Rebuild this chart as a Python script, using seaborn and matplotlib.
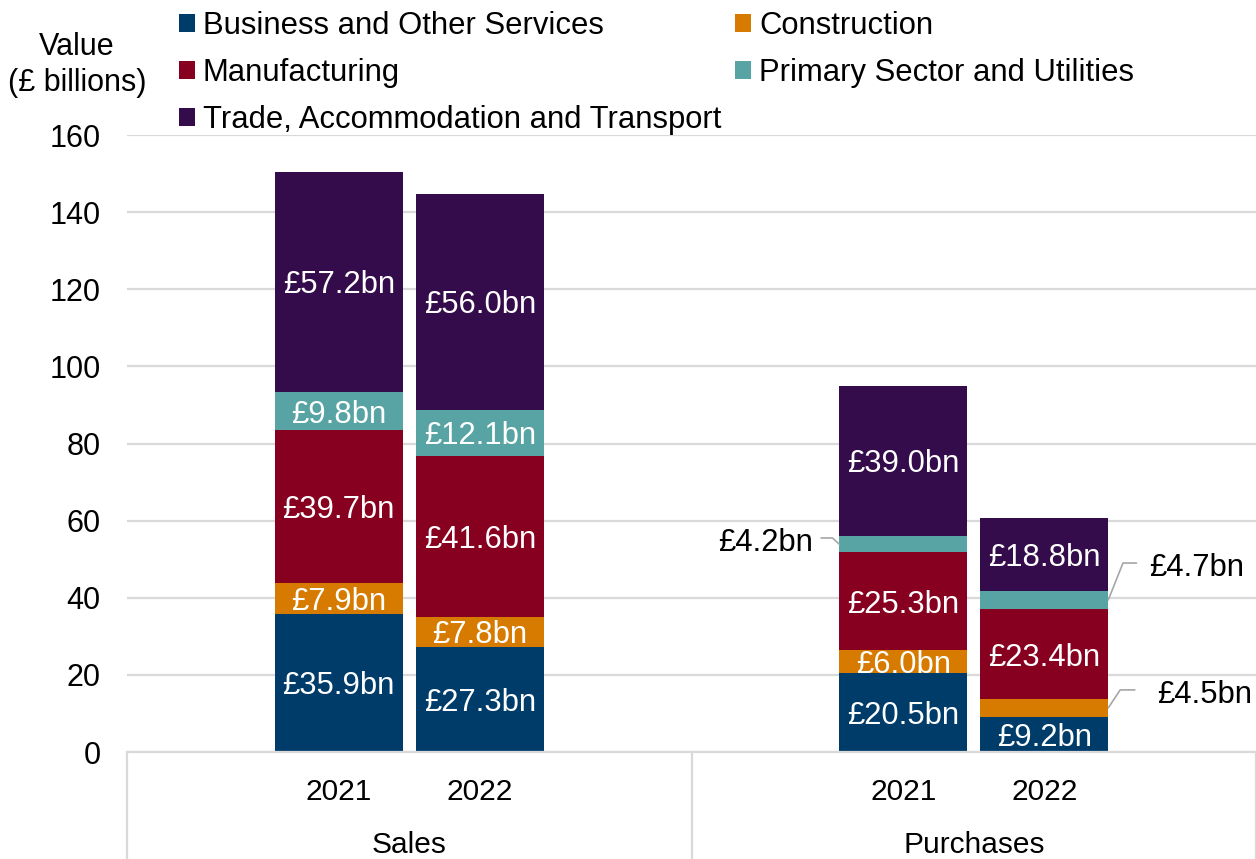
import numpy as np
import pandas as pd
import matplotlib
matplotlib.use("Agg")
import matplotlib.pyplot as plt
from matplotlib.patches import Patch
from matplotlib.lines import Line2D
import seaborn as sns

# ---------------- data ----------------
groups = ["Sales", "Purchases"]
years = ["2021", "2022"]
sectors = ["Business and Other Services", "Construction", "Manufacturing",
           "Primary Sector and Utilities", "Trade, Accommodation and Transport"]
business = [35.9, 27.3, 20.5, 9.2]        # Sales 2021, Sales 2022, Purch 2021, Purch 2022
construction = [7.9, 7.8, 6.0, 4.5]
manufacturing = [39.7, 41.6, 25.3, 23.4]
primary = [9.8, 12.1, 4.2, 4.7]
trade = [57.2, 56.0, 39.0, 18.8]
yticks = [0, 20, 40, 60, 80, 100, 120, 140, 160]

colors = {
    "Business and Other Services": "#003C6A",
    "Construction": "#D67B00",
    "Manufacturing": "#87001F",
    "Primary Sector and Utilities": "#58A3A3",
    "Trade, Accommodation and Transport": "#350C4B",
}

# ---------------- layout ----------------
W, H = 1256, 859
sns.set_theme(style="white")
plt.rcParams["font.family"] = ["Liberation Sans", "DejaVu Sans"]
plt.rcParams["text.color"] = "black"
plt.rcParams["xtick.color"] = "black"
plt.rcParams["ytick.color"] = "black"
plt.rcParams["xtick.labelcolor"] = "black"
plt.rcParams["ytick.labelcolor"] = "black"

fig = plt.figure(figsize=(W / 100, H / 100), dpi=100)
ax = fig.add_axes([127 / W, 1 - 752 / H, (1256 - 127) / W, (752 - 135) / H])

year_offset = 0.125
bar_w = 0.2267
positions = []
for gi, g in enumerate(groups):
    for yi, y in enumerate(years):
        positions.append(gi + 0.5 + (yi - 0.5) * 2 * year_offset)

values = np.array([business, construction, manufacturing, primary, trade])
cum = np.cumsum(values, axis=0)
bottoms = cum - values

rows = []
for si, s in enumerate(sectors):
    for bi, p in enumerate(positions):
        rows.append({"pos": p, "cum": cum[si, bi], "sector": s})
df = pd.DataFrame(rows)

hue_order = sectors[::-1]
min_gap = np.min(np.diff(sorted(positions)))
sns.barplot(data=df, x="pos", y="cum", hue="sector", hue_order=hue_order,
            palette=colors, dodge=False, native_scale=True, errorbar=None,
            saturation=1, width=bar_w / min_gap, linewidth=0, legend=False, ax=ax)

ax.set_xlim(0, 2)
ax.set_ylim(0, 160)
ax.set_yticks(yticks)
ax.tick_params(axis="y", length=0, pad=19, labelsize=22)
ax.set_xticks(positions)
ax.set_xticklabels(years * len(groups))
ax.tick_params(axis="x", length=0, pad=18.5, labelsize=21.5)
ax.set_xlabel("")
ax.set_ylabel("")
ax.yaxis.grid(True, color="#D9D9D9", linewidth=1.6)
ax.set_axisbelow(True)
for sp in ["top", "right", "left"]:
    ax.spines[sp].set_visible(False)
ax.spines["bottom"].set_color("#D9D9D9")
ax.spines["bottom"].set_linewidth(1.6)

# category group dividers and labels
trans = matplotlib.transforms.blended_transform_factory(ax.transData, ax.transAxes)
depth = (859 - 752) / (752 - 135)
for xd in [0, 1, 2]:
    ax.add_line(Line2D([xd, xd], [0, -depth], transform=trans, color="#D9D9D9",
                       linewidth=1.6, clip_on=False))
for gi, g in enumerate(groups):
    ax.text(gi + 0.5, -(845 - 752) / (752 - 135), g, transform=trans,
            ha="center", va="center", fontsize=21.5)

# segment labels
outside = {(3, 2), (1, 3), (3, 3)}  # (sector, bar)
for si in range(len(sectors)):
    for bi, p in enumerate(positions):
        v = values[si, bi]
        if (si, bi) in outside:
            continue
        ax.text(p, bottoms[si, bi] + v / 2, f"£{v:.1f}bn", ha="center",
                va="center_baseline", color="white", fontsize=22.3)

lead_c = "#A6A6A6"
half = bar_w / 2
# £4.2bn (Primary, Purchases 2021) to the left
si, bi = 3, 2
edge = positions[bi] - half
ymid = bottoms[si, bi] + values[si, bi] / 2
ax.plot([edge - 0.032, edge - 0.012, edge], [55.5, 55.5, ymid], color=lead_c, lw=1.2, clip_on=False)
ax.text(edge - 0.047, 55.0, f"£{values[si, bi]:.1f}bn", ha="right", va="center_baseline", fontsize=22.3)
# £4.7bn (Primary, Purchases 2022) to the right
si, bi = 3, 3
edge = positions[bi] + half
ymid = bottoms[si, bi] + values[si, bi] / 2
ax.plot([edge, edge + 0.026, edge + 0.05], [ymid, 49.0, 49.0], color=lead_c, lw=1.2, clip_on=False)
ax.text(edge + 0.073, 48.6, f"£{values[si, bi]:.1f}bn", ha="left", va="center_baseline", fontsize=22.3)
# £4.5bn (Construction, Purchases 2022) to the right
si, bi = 1, 3
edge = positions[bi] + half
ymid = bottoms[si, bi] + values[si, bi] / 2
ax.plot([edge, edge + 0.021, edge + 0.047], [ymid, 16.1, 16.1], color=lead_c, lw=1.2, clip_on=False)
ax.text(edge + 0.086, 15.6, f"£{values[si, bi]:.1f}bn", ha="left", va="center_baseline", fontsize=22.3)

# y-axis title
fig.text(77 / W, 1 - 65 / H, "Value\n(£ billions)", ha="center", va="center",
         fontsize=22, linespacing=1.3)

# legend
order = [0, 2, 4, 1, 3]
handles = [Patch(facecolor=colors[sectors[i]], edgecolor="none") for i in order]
labels = [sectors[i] for i in order]
fig.legend(handles, labels, ncol=2, loc="upper left", bbox_to_anchor=(173 / W, 1 - 5 / H),
           frameon=False, fontsize=22.3, handlelength=0.52, handleheight=0.52,
           handletextpad=0.24, columnspacing=0.46, labelspacing=0.54, borderpad=0.2,
           borderaxespad=0)

fig.savefig("out.png", dpi=100)
